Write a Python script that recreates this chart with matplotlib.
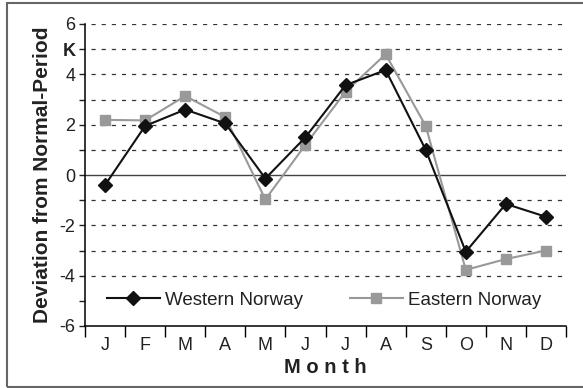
import matplotlib
matplotlib.use("Agg")
import matplotlib.pyplot as plt
from matplotlib.patches import Rectangle
import numpy as np

plt.rcParams['font.family'] = ['Liberation Sans', 'DejaVu Sans']
plt.rcParams['lines.scale_dashes'] = False

months = ["J", "F", "M", "A", "M", "J", "J", "A", "S", "O", "N", "D"]
western = [-0.4, 1.95, 2.6, 2.05, -0.14, 1.5, 3.57, 4.17, 1.0, -3.05, -1.15, -1.66]
eastern = [2.19, 2.17, 3.14, 2.3, -0.97, 1.2, 3.31, 4.8, 1.95, -3.77, -3.34, -3.0]
ytick_vals = [-6, -5, -4, -3, -2, -1, 0, 1, 2, 3, 4, 5, 6]
ytick_labels = ["-6", "", "-4", "", "-2", "", "0", "", "2", "", "4", "K", "6"]

fig = plt.figure(figsize=(5.83, 3.88), dpi=100)
ax = fig.add_axes([85/583, 1 - 326/388, 481/583, 302/388])

x = np.arange(len(months))

# dashed grid at every unit, solid zero line; -5 row is taken by the legend
for v in ytick_vals[2:]:
    if v == 0:
        ax.axhline(0, color="#444444", lw=1.0, zorder=1)
    else:
        ax.axhline(v, xmin=0.012, color="#333333", lw=0.9, ls=(0, (3, 4.3)), zorder=1)

ax.plot(x, western, color="#111111", lw=1.5, marker="D", markersize=7.5,
        label="Western Norway", zorder=4)
ax.plot(x, eastern, color="#999999", lw=1.5, marker="s", markersize=6.5,
        label="Eastern Norway", zorder=3)

ax.set_xlim(-0.5, 11.5)
ax.set_ylim(-6, 6)

ax.set_yticks(ytick_vals)
ax.set_yticklabels(ytick_labels)
for lab, txt in zip(ax.get_yticklabels(), ytick_labels):
    if txt == "K":
        lab.set_fontweight("bold")
ax.tick_params(axis="y", length=4, width=1, pad=3, labelsize=13, colors="#222222")

ax.set_xticks(np.arange(-0.5, 12, 1))
ax.set_xticklabels([])
ax.set_xticks(x, minor=True)
ax.set_xticklabels(months, minor=True)
ax.tick_params(axis="x", which="major", length=8, width=1, direction="out")
ax.tick_params(axis="x", which="minor", length=0, pad=8, labelsize=13, labelcolor="#222222")

for s in ["top", "right"]:
    ax.spines[s].set_visible(False)
for s in ["left", "bottom"]:
    ax.spines[s].set_linewidth(1.1)

ax.set_ylabel("Deviation from Normal-Period", fontsize=15, fontweight="bold",
              color="#222222", labelpad=5)
ax.set_xlabel("M o n t h", fontsize=14.5, fontweight="bold", color="#222222", labelpad=3)

ax.legend(loc="center left", bbox_to_anchor=(0.046, 0.086), ncol=2, frameon=False,
          fontsize=13.5, handlelength=2.8, handletextpad=0.3, columnspacing=2.5,
          borderpad=0, borderaxespad=0, labelcolor="#222222")

fig.add_artist(Rectangle((7/583, 1/388), 1.2, 384/388, transform=fig.transFigure,
                         fill=False, edgecolor="#666666", lw=1.5))

fig.savefig("out.png", dpi=100)
